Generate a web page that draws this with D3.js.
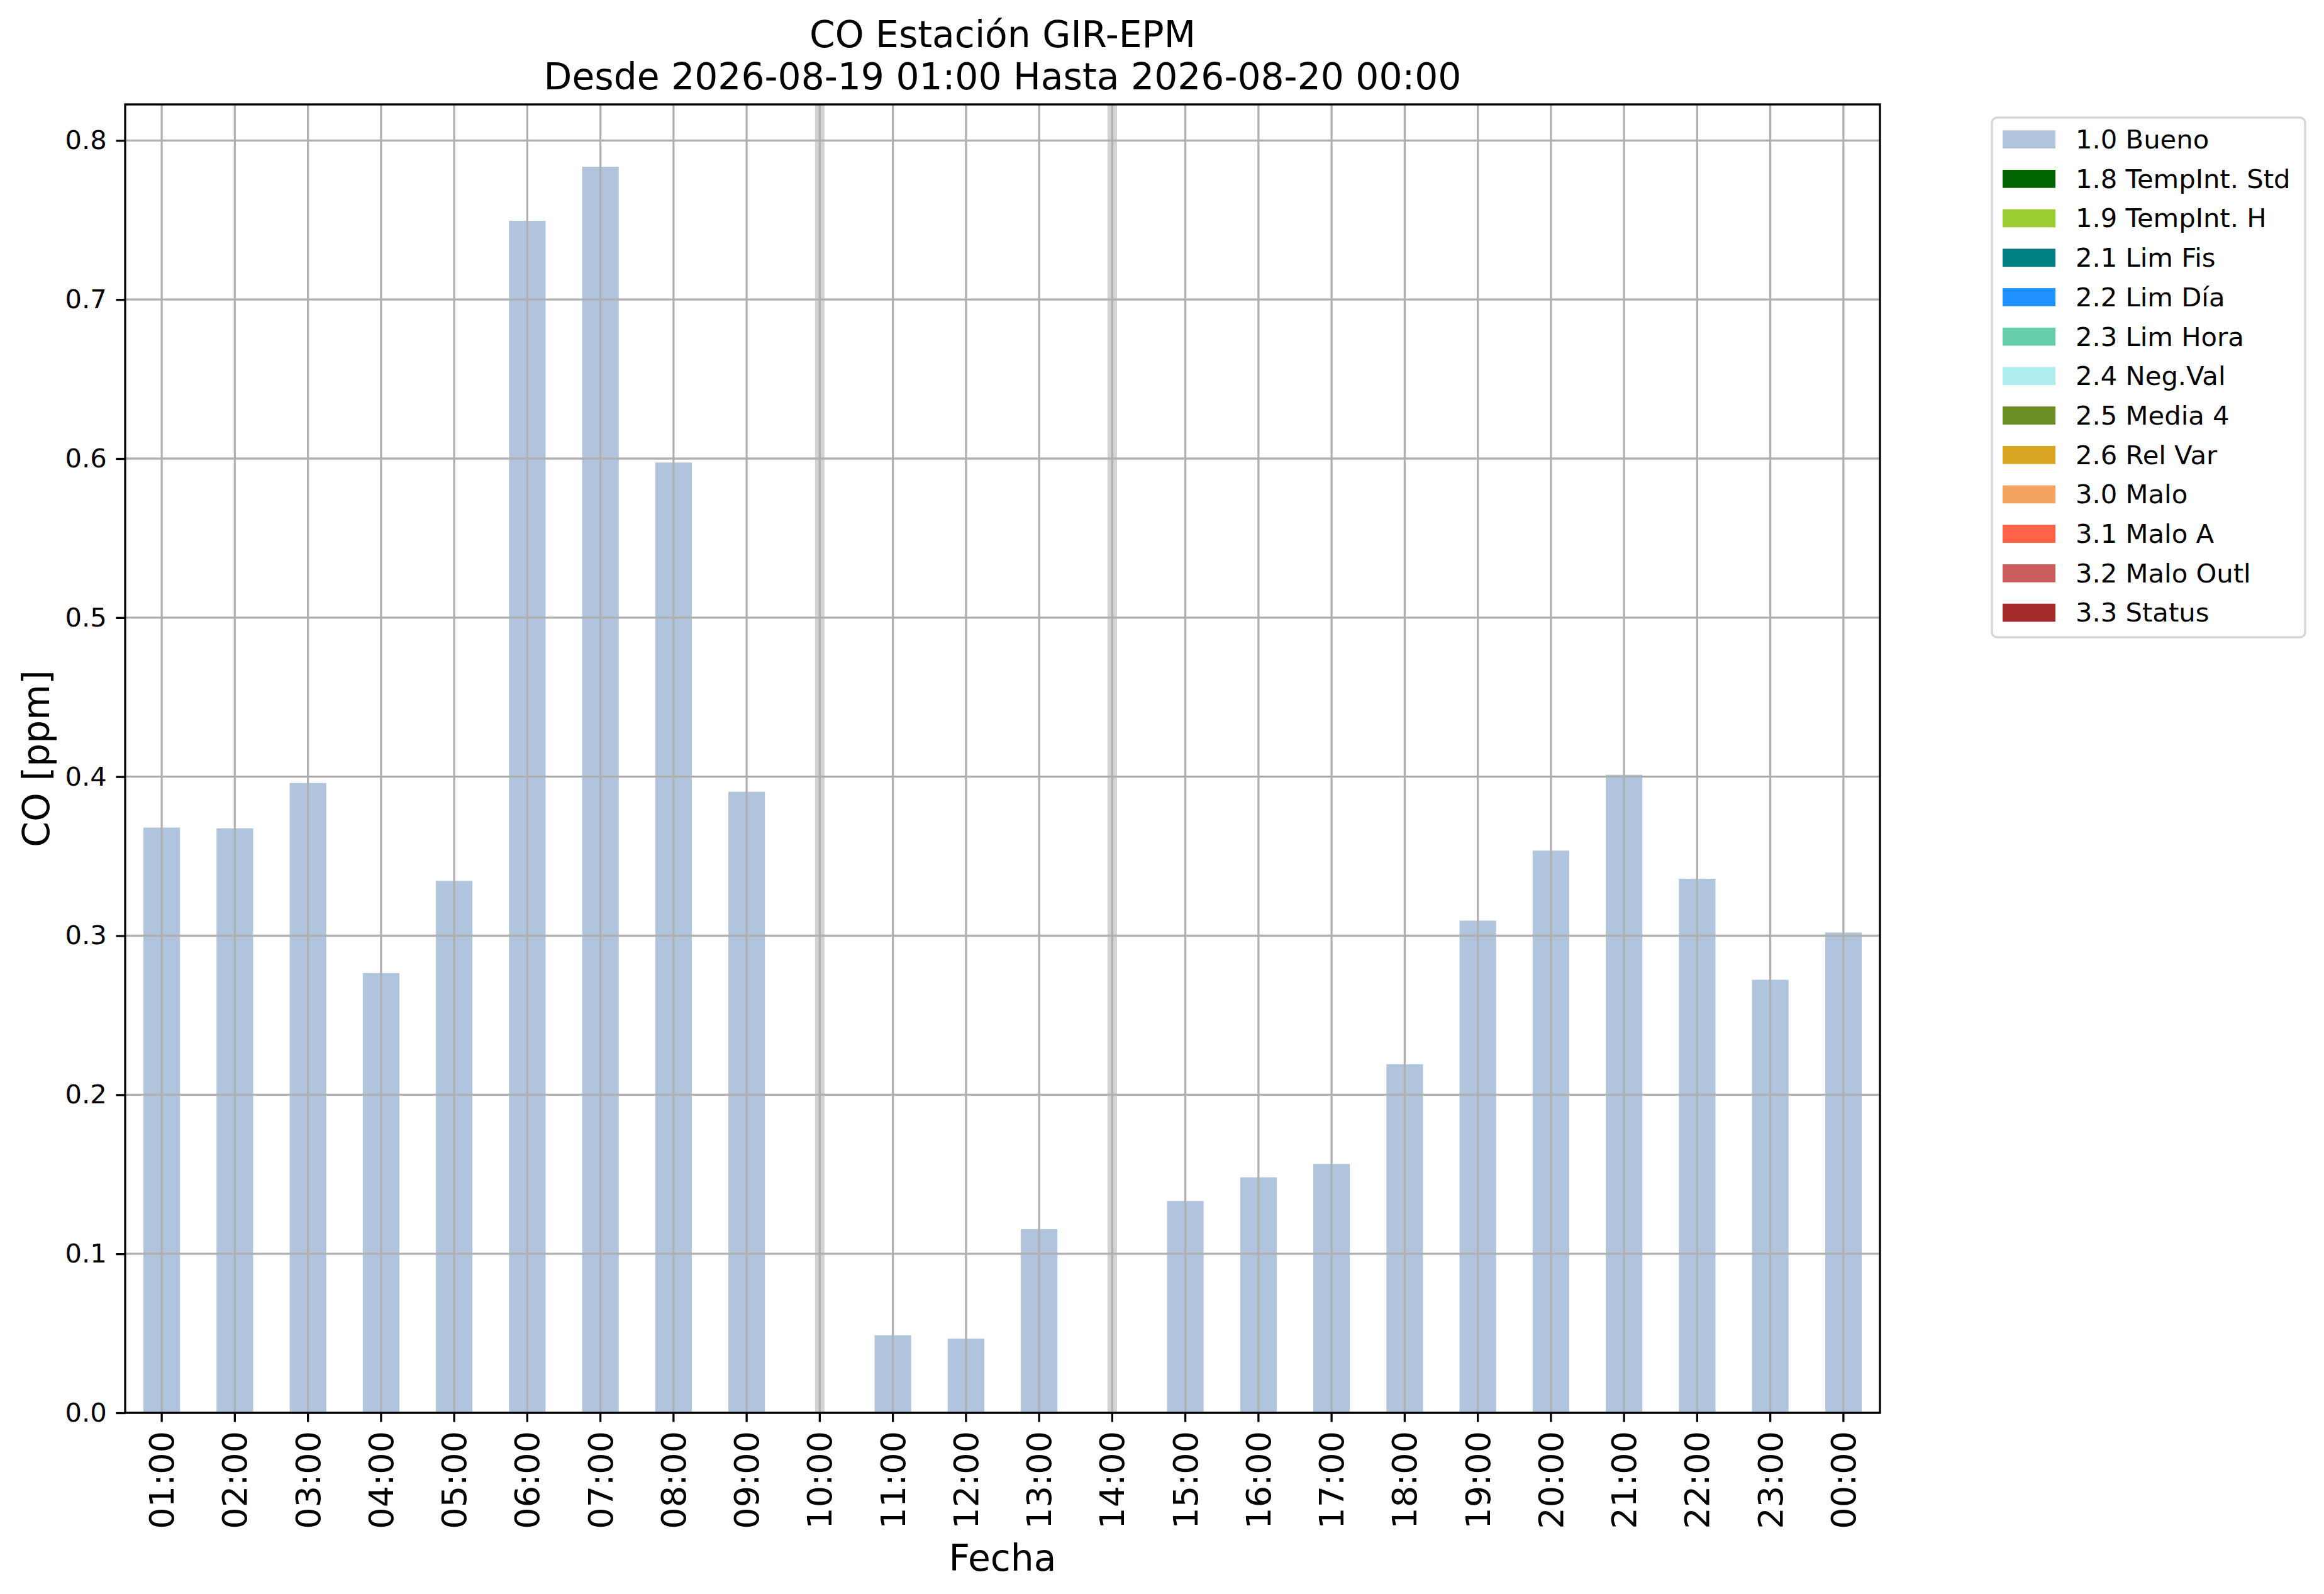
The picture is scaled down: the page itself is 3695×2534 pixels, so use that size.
<!DOCTYPE html>
<html>
<head>
<meta charset="utf-8">
<script src="https://cdn.jsdelivr.net/npm/d3@7"></script>
<style>
  body { margin: 0; background: #fff; }
  text { font-family: 'DejaVu Sans', sans-serif; fill: #000; }
</style>
</head>
<body>
<svg id="chart"></svg>
<script>
// hourly CO values, null = no data for that hour
const hours = ['01:00', '02:00', '03:00', '04:00', '05:00', '06:00', '07:00', '08:00',
               '09:00', '10:00', '11:00', '12:00', '13:00', '14:00', '15:00', '16:00',
               '17:00', '18:00', '19:00', '20:00', '21:00', '22:00', '23:00', '00:00'];
const coValues = [0.368, 0.3675, 0.396, 0.2765, 0.3345, 0.7495, 0.7835, 0.5975,
                  0.3905, null, 0.0488, 0.0467, 0.1155, null, 0.1332, 0.1481,
                  0.1565, 0.2192, 0.3095, 0.3535, 0.4012, 0.3358, 0.2723, 0.302];
const yTicks = [0, 0.1, 0.2, 0.3, 0.4, 0.5, 0.6, 0.7, 0.8];
const flagLabels = ['1.0 Bueno', '1.8 TempInt. Std', '1.9 TempInt. H', '2.1 Lim Fis',
                    '2.2 Lim Día', '2.3 Lim Hora', '2.4 Neg.Val', '2.5 Media 4',
                    '2.6 Rel Var', '3.0 Malo', '3.1 Malo A', '3.2 Malo Outl', '3.3 Status'];
const flagColors = ['#b0c4de', '#006400', '#9acd32', '#008080', '#1e90ff', '#66cdaa',
                    '#afeeee', '#6b8e23', '#daa520', '#f4a460', '#ff6347', '#cd5c5c', '#a52a2a'];

const width = 3695, height = 2534;
const margin = {top: 166, right: 706, bottom: 288, left: 199};
const innerW = width - margin.left - margin.right;
const innerH = height - margin.top - margin.bottom;

const svg = d3.select('#chart')
              .attr('width', width)
              .attr('height', height);

const g = svg.append('g')
             .attr('transform', 'translate(' + margin.left + ',' + margin.top + ')');

const x = d3.scaleBand()
            .domain(hours)
            .range([0, innerW])
            .paddingInner(0)
            .paddingOuter(0);
const step = x.step();
const cx = d => x(d) + step / 2;

const yMax = d3.max(coValues) * 1.05;
const y = d3.scaleLinear()
            .domain([0, yMax])
            .range([innerH, 0]);

const data = hours.map((h, i) => ({hour: h, value: coValues[i]}));

// grey spans where hours are missing
g.selectAll('.gap')
  .data(data.filter(d => d.value === null))
  .enter()
    .append('rect')
    .classed('gap', true)
    .attr('x', d => cx(d.hour) - step * 0.065)
    .attr('width', step * 0.13)
    .attr('y', 0)
    .attr('height', innerH)
    .attr('fill', '#d3d3d3');

// bars
g.selectAll('.bar')
  .data(data.filter(d => d.value !== null))
  .enter()
    .append('rect')
    .classed('bar', true)
    .attr('x', d => cx(d.hour) - step * 0.25)
    .attr('width', step * 0.5)
    .attr('y', d => y(d.value))
    .attr('height', d => innerH - y(d.value))
    .attr('fill', flagColors[0]);

// grid on top of bars, like matplotlib
g.append('g')
  .selectAll('line')
  .data(hours)
  .enter()
    .append('line')
    .attr('x1', cx).attr('x2', cx)
    .attr('y1', 0).attr('y2', innerH)
    .attr('stroke', '#b0b0b0')
    .attr('stroke-width', 3.3);

g.append('g')
  .selectAll('line')
  .data(yTicks)
  .enter()
    .append('line')
    .attr('x1', 0).attr('x2', innerW)
    .attr('y1', d => y(d)).attr('y2', d => y(d))
    .attr('stroke', '#b0b0b0')
    .attr('stroke-width', 3.3);

// axes
const xAxis = g.append('g')
               .attr('transform', 'translate(0,' + innerH + ')')
               .call(d3.axisBottom(x).tickSize(14.6).tickPadding(14.6));
xAxis.select('.domain').remove();
xAxis.selectAll('.tick line').attr('stroke', '#000').attr('stroke-width', 3.3);
xAxis.selectAll('.tick text')
      .attr('font-size', 54)
      .attr('font-family', 'DejaVu Sans')
      .attr('transform', 'rotate(-90)')
      .attr('x', -29)
      .attr('y', 0)
      .attr('dy', '0.35em')
      .style('text-anchor', 'end');

const yAxis = g.append('g')
               .call(d3.axisLeft(y).tickValues(yTicks).tickFormat(d3.format('.1f'))
                       .tickSize(14.6).tickPadding(14.6));
yAxis.select('.domain').remove();
yAxis.selectAll('.tick line').attr('stroke', '#000').attr('stroke-width', 3.3);
yAxis.selectAll('.tick text')
      .attr('font-size', 41.7)
      .attr('font-family', 'DejaVu Sans');

g.append('rect')
  .attr('width', innerW)
  .attr('height', innerH)
  .attr('fill', 'none')
  .attr('stroke', '#000')
  .attr('stroke-width', 3.3);

// titles and labels
svg.append('text')
    .attr('x', margin.left + innerW / 2)
    .attr('y', 75)
    .attr('font-size', 58.3)
    .style('text-anchor', 'middle')
    .text('CO Estación GIR-EPM');

svg.append('text')
    .attr('x', margin.left + innerW / 2)
    .attr('y', 141.7)
    .attr('font-size', 58.3)
    .style('text-anchor', 'middle')
    .text('Desde 2026-08-19 01:00 Hasta 2026-08-20 00:00');

svg.append('text')
    .attr('x', margin.left + innerW / 2)
    .attr('y', 2497)
    .attr('font-size', 58.3)
    .style('text-anchor', 'middle')
    .text('Fecha');

svg.append('text')
    .attr('transform', 'translate(78,' + (margin.top + innerH / 2) + ') rotate(-90)')
    .attr('font-size', 58.3)
    .style('text-anchor', 'middle')
    .text('CO [ppm]');

// legend
const legend = svg.append('g')
                  .attr('transform', 'translate(3167,187)');

legend.append('rect')
      .attr('width', 498)
      .attr('height', 826)
      .attr('rx', 8)
      .attr('fill', '#fff')
      .attr('stroke', '#d6d6d6')
      .attr('stroke-width', 3.3);

const rowH = 62.7;
const item = legend.selectAll('.item')
                   .data(flagLabels)
                   .enter()
                     .append('g')
                     .classed('item', true)
                     .attr('transform', (d, i) => 'translate(0,' + (i * rowH) + ')');

item.append('rect')
    .attr('x', 17)
    .attr('y', 20.3)
    .attr('width', 84)
    .attr('height', 28.7)
    .attr('fill', (d, i) => flagColors[i]);

item.append('text')
    .attr('x', 133)
    .attr('y', 49)
    .attr('font-size', 41.7)
    .text(d => d);
</script>
</body>
</html>
